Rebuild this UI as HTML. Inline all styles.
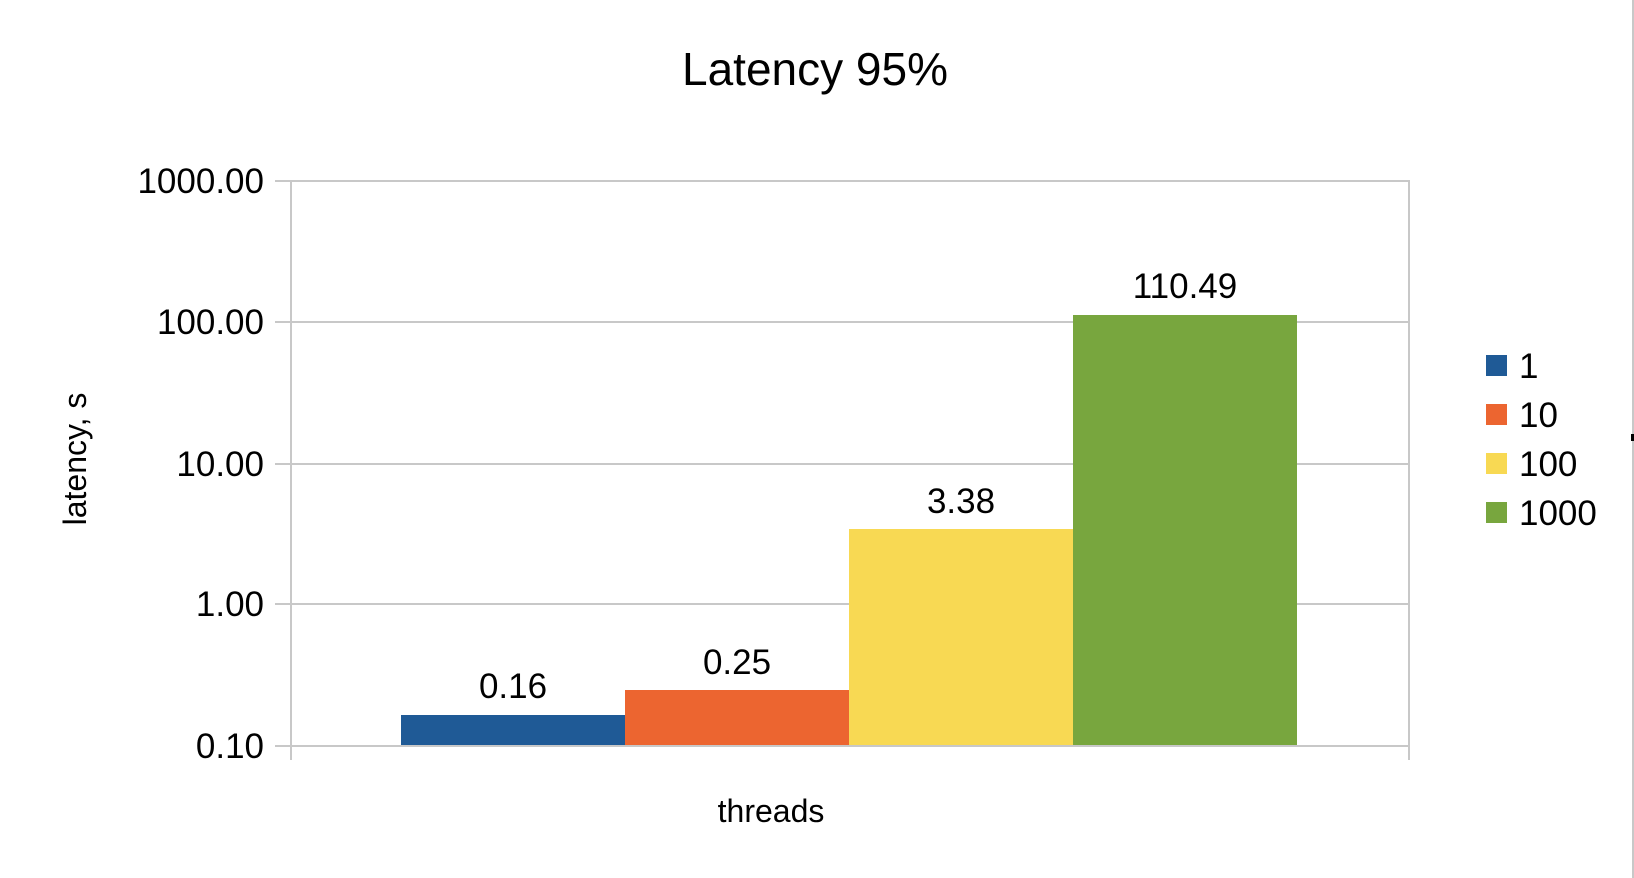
<!DOCTYPE html>
<html><head><meta charset="utf-8"><style>
html,body{margin:0;padding:0;background:#fff;}
svg{display:block;}
text{font-family:"Liberation Sans",Arial,sans-serif;fill:#000;}
</style></head><body>
<svg width="1634" height="878" viewBox="0 0 1634 878" xmlns="http://www.w3.org/2000/svg">
<rect width="1634" height="878" fill="#fff"/>
<text x="815" y="85" font-size="46" text-anchor="middle">Latency 95%</text>
<g stroke="#c8c8c8" stroke-width="2">
<line x1="275" y1="181" x2="1410" y2="181"/>
<line x1="275" y1="322" x2="1410" y2="322"/>
<line x1="275" y1="464" x2="1410" y2="464"/>
<line x1="275" y1="604" x2="1410" y2="604"/>
<line x1="291" y1="181" x2="291" y2="760"/>
<line x1="1409" y1="181" x2="1409" y2="760"/>
<line x1="1633" y1="0" x2="1633" y2="878"/>
</g>
<rect x="401" y="715" width="224" height="31" fill="#1f5a96"/>
<rect x="625" y="690" width="224" height="56" fill="#ec6530"/>
<rect x="849" y="529" width="224" height="217" fill="#f8d953"/>
<rect x="1073" y="315" width="224" height="431" fill="#78a63e"/>
<line x1="275" y1="746" x2="1410" y2="746" stroke="#c8c8c8" stroke-width="2"/>
<g font-size="35" text-anchor="end">
<text x="264" y="193">1000.00</text>
<text x="264" y="334">100.00</text>
<text x="264" y="476">10.00</text>
<text x="264" y="616">1.00</text>
<text x="264" y="758">0.10</text>
</g>
<g font-size="35" text-anchor="middle">
<text x="513" y="698">0.16</text>
<text x="737" y="674">0.25</text>
<text x="961" y="513">3.38</text>
<text x="1185" y="298">110.49</text>
<text x="771" y="822" font-size="32">threads</text>
</g>
<text transform="translate(86,459) rotate(-90)" font-size="32" text-anchor="middle">latency, s</text>
<rect x="1486" y="355" width="21" height="21" fill="#1f5a96"/>
<rect x="1486" y="404" width="21" height="21" fill="#ec6530"/>
<rect x="1486" y="453" width="21" height="21" fill="#f8d953"/>
<rect x="1486" y="502" width="21" height="21" fill="#78a63e"/>
<g font-size="35">
<text x="1519" y="378">1</text>
<text x="1519" y="427">10</text>
<text x="1519" y="476">100</text>
<text x="1519" y="525">1000</text>
</g>
<rect x="1631" y="434" width="3" height="7" fill="#000"/>
</svg>
</body></html>
